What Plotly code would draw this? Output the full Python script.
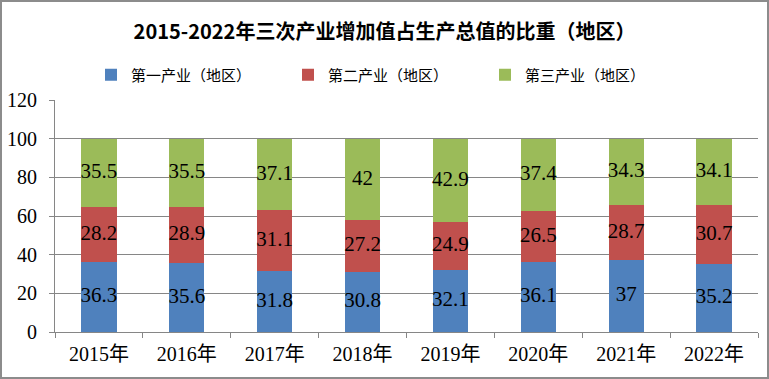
import plotly.graph_objects as go

years = ["2015年", "2016年", "2017年", "2018年", "2019年", "2020年", "2021年", "2022年"]
primary = [36.3, 35.6, 31.8, 30.8, 32.1, 36.1, 37, 35.2]
secondary = [28.2, 28.9, 31.1, 27.2, 24.9, 26.5, 28.7, 30.7]
tertiary = [35.5, 35.5, 37.1, 42, 42.9, 37.4, 34.3, 34.1]
names = ["第一产业（地区）", "第二产业（地区）", "第三产业（地区）"]
colors = ["#4F81BD", "#C0504D", "#9BBB59"]
title = "2015-2022年三次产业增加值占生产总值的比重（地区）"

series = [primary, secondary, tertiary]
fig = go.Figure()
base = [0] * len(years)
label_font = dict(family="Liberation Serif, Noto Sans CJK SC", size=21, color="black")
for name, vals, col in zip(names, series, colors):
    fig.add_trace(go.Bar(x=years, y=vals, name=name, marker=dict(color=col, line=dict(width=0)),
                         width=0.4))
    mids = [b + v / 2 for b, v in zip(base, vals)]
    fig.add_trace(go.Scatter(x=years, y=mids, mode="text", text=[f"{v:g}" for v in vals],
                             textposition="middle center", textfont=label_font,
                             showlegend=False, hoverinfo="skip", cliponaxis=False))
    base = [b + v for b, v in zip(base, vals)]

fig.update_layout(
    width=769, height=379,
    barmode="stack",
    plot_bgcolor="white", paper_bgcolor="white",
    margin=dict(l=55, r=11, t=100, b=47, autoexpand=False),
    title=dict(text=f"<b>{title}</b>", x=0.5, xanchor="center", y=1 - 32 / 379, yanchor="middle",
               font=dict(family="Liberation Sans Narrow, Noto Sans CJK SC", size=20, color="black")),
    legend=dict(orientation="h", x=0.5 - 20 / 703, xanchor="center", y=1 + 25 / 232, yanchor="middle",
                font=dict(family="Noto Sans CJK SC", size=15, color="black"),
                traceorder="normal", itemwidth=30, entrywidth=152),
    showlegend=True,
    font=dict(family="Liberation Serif, Noto Sans CJK SC", color="black"),
)
fig.update_xaxes(showline=True, linecolor="#868686", linewidth=1, ticks="outside", tickson="boundaries",
                 ticklen=5, tickcolor="#868686", tickfont=dict(size=20, family="Liberation Serif, Noto Sans CJK SC"),
                 showgrid=False, ticklabelstandoff=4)
fig.update_yaxes(range=[0, 120], dtick=20, showline=True, linecolor="#868686", linewidth=1,
                 ticks="outside", ticklen=5, tickcolor="#868686", showgrid=True, gridcolor="#868686",
                 gridwidth=1, zeroline=False, tickfont=dict(size=20, family="Liberation Serif"),
                 ticklabelstandoff=8)
fig.add_shape(type="rect", xref="paper", yref="paper",
              x0=-54 / 703, x1=1 + 10 / 703, y0=-46 / 232, y1=1 + 99 / 232,
              line=dict(color="#8C8C8C", width=2), fillcolor="rgba(0,0,0,0)")
fig.write_html("out.html", config={"displayModeBar": False},
               post_script="document.body.style.margin='0px';document.body.style.overflow='hidden';")
